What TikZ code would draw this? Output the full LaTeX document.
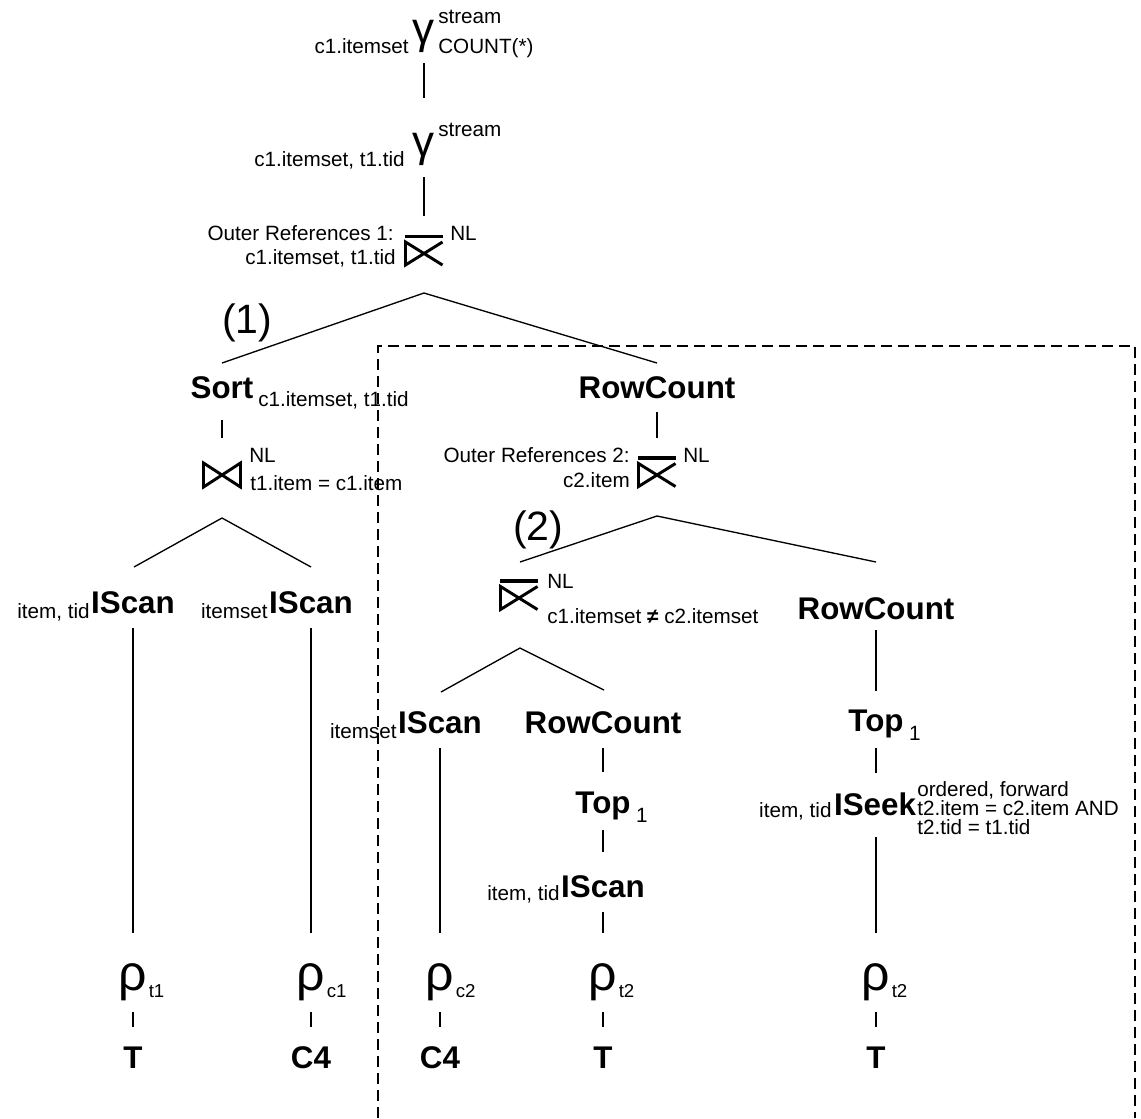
\documentclass[tikz,border=0pt]{standalone}
\usepackage{fontspec}
\setmainfont{Liberation Sans}
\usetikzlibrary{calc}
\tikzset{
  op/.style={font=\fontsize{23.5}{28}\selectfont\bfseries, inner sep=0pt, anchor=base},
  lab/.style={font=\fontsize{15.5}{18}\selectfont, inner sep=0pt},
  greek/.style={font=\fontsize{33}{36}\selectfont, inner sep=0pt, anchor=base},
  rel/.style={font=\fontsize{37.5}{40}\selectfont, inner sep=0pt, anchor=base},
  relsub/.style={font=\fontsize{14}{16}\selectfont, inner sep=0pt, anchor=base west},
  num/.style={font=\fontsize{30.75}{34}\selectfont, inner sep=0pt, anchor=base west},
  edge/.style={line width=1pt},
  joinline/.style={line width=2.2pt, line join=miter},
  box/.style={line width=1.6pt, dash pattern=on 8.25pt off 4.5pt},
  pics/natjoin/.style={code={
    \draw[joinline] (-18.5,-12) -- (-18.5,12) -- (18.5,-12) -- (18.5,12) -- cycle;}},
  pics/nljoin/.style={code={
    \draw[line width=2.4pt] (-19,-17) -- (19,-17);
    \draw[joinline] (18.5,-11.5) -- (-18.5,11.5) -- (-18.5,-11.5) -- (18.5,11.5);}},
}
\begin{document}
\begin{tikzpicture}[x=0.75pt,y=-0.75pt]
\useasboundingbox (0,0) rectangle (1141,1118);

% dashed box (open at the bottom)
\coordinate (boxBL) at (378,1118);
\coordinate (boxTL) at (378,346);
\coordinate (boxTR) at (1135,346);
\coordinate (boxBR) at (1135,1118);
\draw[box] (boxBL) -- (boxTL) -- (boxTR) -- (boxBR);

% gamma 1
\node[greek] (g1) at (423,43) {γ};
\node[lab, anchor=base east] (g1l) at (409,53) {c1.itemset};
\node[lab, anchor=base west] (g1s) at (438,23) {stream};
\node[lab, anchor=base west] (g1c) at (438,53) {COUNT(*)};
\coordinate (g1out) at (424,63);
\coordinate (g2in) at (424,98);
\draw[edge] (g1out) -- (g2in);

% gamma 2
\node[greek] (g2) at (423,156) {γ};
\node[lab, anchor=base east] (g2l) at (405,166) {c1.itemset, t1.tid};
\node[lab, anchor=base west] (g2s) at (438,136) {stream};
\coordinate (g2out) at (424,177);
\coordinate (nlAin) at (424,216);
\draw[edge] (g2out) -- (nlAin);

% NL join 1
\pic (nlA) at (424,253.5) {nljoin};
\node[lab, anchor=base east] (or1) at (394,240) {Outer References 1:};
\node[lab, anchor=base east] (or1b) at (396,264) {c1.itemset, t1.tid};
\node[lab, anchor=base west] (nl1) at (450,240) {NL};
\coordinate (nlAapex) at (424,293);
\coordinate (sortin) at (222,363);
\coordinate (rcAin) at (657,363);
\draw[edge] (sortin) -- (nlAapex) -- (rcAin);
\node[num] (lab1) at (222,333) {(1)};

% Sort and RowCount
\node[op] (sort) at (222,398) {Sort};
\node[lab, anchor=base west] (sorts) at (258,406) {c1.itemset, t1.tid};
\node[op] (rcA) at (657,398) {RowCount};
\coordinate (sortout) at (222,420);
\coordinate (bjin) at (222,438);
\draw[edge] (sortout) -- (bjin);
\coordinate (rcAout) at (657,412);
\coordinate (nlBin) at (657,438);
\draw[edge] (rcAout) -- (nlBin);

% bowtie join (left)
\pic (bj) at (222,475) {natjoin};
\node[lab, anchor=base west] (bjn) at (249,462) {NL};
\node[lab, anchor=base west] (bjp) at (250,490) {t1.item = c1.item};
\coordinate (bjapex) at (222,518);
\coordinate (isAin) at (134,567);
\coordinate (isBin) at (311,567);
\draw[edge] (isAin) -- (bjapex) -- (isBin);

% NL join 2
\pic (nlB) at (657,475) {nljoin};
\node[lab, anchor=base east] (or2) at (630,462) {Outer References 2:};
\node[lab, anchor=base east] (or2b) at (630,487) {c2.item};
\node[lab, anchor=base west] (nl2) at (683,462) {NL};
\coordinate (nlBapex) at (657,516);
\coordinate (nlCin) at (520,562);
\coordinate (rcBin) at (876,562);
\draw[edge] (nlCin) -- (nlBapex) -- (rcBin);
\node[num] (lab2) at (513,540) {(2)};

% row of IScans
\node[op] (isA) at (133,613) {IScan};
\node[lab, anchor=base east] (isAs) at ($(isA.base west)+(-1,5)$) {item, tid};
\node[op] (isB) at (311,613) {IScan};
\node[lab, anchor=base east] (isBs) at ($(isB.base west)+(-1,5)$) {itemset};

% NL join 3
\pic (nlC) at (519,598) {nljoin};
\node[lab, anchor=base west] (nl3) at (547,588) {NL};
\node[lab, anchor=base west] (nl3p) at (547,623) {c1.itemset {\bfseries ≠} c2.itemset};
\coordinate (nlCapex) at (520,648);
\coordinate (isCin) at (441,692);
\coordinate (rcCin) at (604,690);
\draw[edge] (isCin) -- (nlCapex) -- (rcCin);

% right RowCount
\node[op] (rcB) at (876,619) {RowCount};
\coordinate (rcBout) at (876,630);
\coordinate (topAin) at (876,691);
\draw[edge] (rcBout) -- (topAin);

% second row
\node[op] (isC) at (440,733) {IScan};
\node[lab, anchor=base east] (isCs) at ($(isC.base west)+(-1,5)$) {itemset};
\node[op] (rcC) at (603,733) {RowCount};
\node[op] (topA) at (876,731) {Top};
\node[lab, anchor=base west] (topAs) at ($(topA.base east)+(5,9)$) {1};
\coordinate (rcCout) at (603,748);
\coordinate (topBin) at (603,772);
\draw[edge] (rcCout) -- (topBin);
\coordinate (topAout) at (876,748);
\coordinate (iskin) at (876,773);
\draw[edge] (topAout) -- (iskin);

% third row
\node[op] (topB) at (603,813) {Top};
\node[lab, anchor=base west] (topBs) at ($(topB.base east)+(5,9)$) {1};
\node[op] (isk) at (875,815) {ISeek};
\node[lab, anchor=base east] (isks) at ($(isk.base west)+(-2,2)$) {item, tid};
\node[lab, anchor=base west, align=left, font=\fontsize{15.5}{14}\selectfont] (iskp) at (917,834)
  {ordered, forward\\t2.item = c2.item AND\\t2.tid = t1.tid};
\coordinate (topBout) at (603,830);
\coordinate (isDin) at (603,852);
\draw[edge] (topBout) -- (isDin);

% fourth row
\node[op] (isD) at (603,897) {IScan};
\node[lab, anchor=base east] (isDs) at ($(isD.base west)+(-1,3)$) {item, tid};

% long lines down to relations
\coordinate (isAout) at (133,628);
\coordinate (rAin) at (133,933);
\draw[edge] (isAout) -- (rAin);
\coordinate (isBout) at (311,628);
\coordinate (rBin) at (311,933);
\draw[edge] (isBout) -- (rBin);
\coordinate (isCout) at (440,748);
\coordinate (rCin) at (440,933);
\draw[edge] (isCout) -- (rCin);
\coordinate (isDout) at (603,912);
\coordinate (rDin) at (603,933);
\draw[edge] (isDout) -- (rDin);
\coordinate (iskout) at (876,837);
\coordinate (rEin) at (876,933);
\draw[edge] (iskout) -- (rEin);

% relations rho
\node[rel] (rA) at (133,990) {ρ};
\node[relsub] at ($(rA.base east)+(1,7)$) {t1};
\node[rel] (rB) at (311,990) {ρ};
\node[relsub] at ($(rB.base east)+(1,7)$) {c1};
\node[rel] (rC) at (440,990) {ρ};
\node[relsub] at ($(rC.base east)+(1,7)$) {c2};
\node[rel] (rD) at (603,990) {ρ};
\node[relsub] at ($(rD.base east)+(1,7)$) {t2};
\node[rel] (rE) at (876,990) {ρ};
\node[relsub] at ($(rE.base east)+(1,7)$) {t2};

% tables
\node[op] (tA) at (133,1068) {T};
\node[op] (tB) at (311,1068) {C4};
\node[op] (tC) at (440,1068) {C4};
\node[op] (tD) at (603,1068) {T};
\node[op] (tE) at (876,1068) {T};

\foreach \c/\x in {A/133,B/311,C/440,D/603,E/876}{
  \coordinate (rout\c) at (\x,1012);
  \coordinate (tin\c) at (\x,1027);
  \draw[edge] (rout\c) -- (tin\c);
}
\end{tikzpicture}
\end{document}
